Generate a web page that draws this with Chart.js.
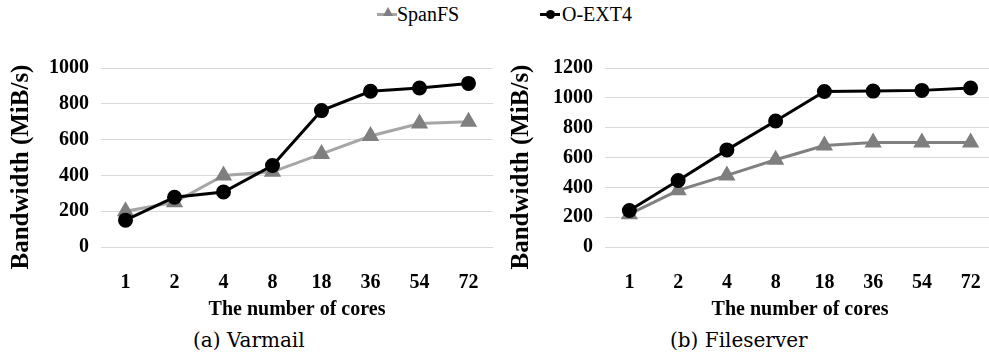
<!DOCTYPE html>
<html>
<head>
<meta charset="utf-8">
<script src="https://cdn.jsdelivr.net/npm/chart.js@4"></script>
<style>
  body { margin: 0; width: 989px; height: 360px; overflow: hidden; background: #fff; position: relative; }
  .box { position: absolute; }
  .legend { position: absolute; top: 3px; font: 20px "Liberation Serif", serif; color: #000; line-height: 22px; }
  .legend .mk { position: absolute; top: 10px; height: 3px; width: 20px; }
  .caption { position: absolute; top: 328px; font: 20px "DejaVu Serif", serif; color: #000; }
  .ytitle { position: absolute; top: 167px; width: 240px; margin-left: -120px; margin-top: -15px; height: 30px; line-height: 30px;
            text-align: center; transform: rotate(-90deg); font: bold 25px "Liberation Serif", serif; color: #000; white-space: nowrap; }
</style>
</head>
<body>
<div class="legend" style="left:377px;">
  <span class="mk" style="left:0;background:#a6a6a6;"></span>
  <span style="position:absolute;left:6px;top:4px;width:0;height:0;border-left:5px solid transparent;border-right:5px solid transparent;border-bottom:9px solid #7f7f7f;"></span>
  <span style="position:absolute;left:20px;top:0;white-space:nowrap;">SpanFS</span>
</div>
<div class="legend" style="left:540px;">
  <span class="mk" style="left:0;background:#000;"></span>
  <span style="position:absolute;left:6px;top:7px;width:9px;height:9px;border-radius:50%;background:#000;"></span>
  <span style="position:absolute;left:22px;top:0;white-space:nowrap;">O-EXT4</span>
</div>

<div class="box" style="left:0;top:44px;width:503px;height:278px;"><canvas id="varmail"></canvas></div>
<div class="box" style="left:500px;top:44px;width:505px;height:278px;"><canvas id="fileserver"></canvas></div>

<div class="ytitle" style="left:21px;">Bandwidth (MiB/s)</div>
<div class="ytitle" style="left:521px;">Bandwidth (MiB/s)</div>

<div class="caption" style="left:193px;">(a) Varmail</div>
<div class="caption" style="left:670px;">(b) Fileserver</div>

<script>
const cores = ['1', '2', '4', '8', '18', '36', '54', '72'];
const varmailSpanFS = [200, 250, 400, 420, 520, 620, 690, 700];
const varmailExt4 = [150, 278, 307, 455, 762, 870, 888, 914];
const fileserverSpanFS = [220, 380, 480, 585, 680, 700, 700, 700];
const fileserverExt4 = [245, 446, 651, 845, 1042, 1045, 1050, 1066];
const varmailMax = 1000;
const fileserverMax = 1200;
const tickStep = 200;

const serif = '"Liberation Serif", "Times New Roman", serif';
const boldFont = { family: serif, size: 20, weight: 'bold' };

function makeChart(id, spanfs, ext4, yMax, spanLine, axisWidth) {
  const ctx = document.getElementById(id);
  return new Chart(ctx, {
    type: 'line',
    data: {
      labels: cores,
      datasets: [{
        label: 'SpanFS',
        data: spanfs,
        borderColor: spanLine,
        backgroundColor: '#7f7f7f',
        pointBackgroundColor: '#7f7f7f',
        pointBorderColor: '#7f7f7f',
        pointStyle: 'triangle',
        pointRadius: 7,
        borderWidth: 3,
        order: 2
      }, {
        label: 'O-EXT4',
        data: ext4,
        borderColor: '#000',
        backgroundColor: '#000',
        pointBackgroundColor: '#000',
        pointBorderColor: '#000',
        pointStyle: 'circle',
        pointRadius: 6,
        borderWidth: 3,
        order: 1
      }]
    },
    options: {
      responsive: true,
      maintainAspectRatio: false,
      animation: false,
      layout: { padding: { top: 19, right: 3, bottom: 0, left: 0 } },
      plugins: { legend: { display: false }, tooltip: { enabled: false } },
      scales: {
        x: {
          offset: true,
          afterFit: function(scale) { scale.height = 75; },
          grid: { display: false },
          border: { display: false },
          ticks: { color: '#000', font: boldFont, padding: 16, maxRotation: 0, autoSkip: false },
          title: { display: true, text: 'The number of cores', color: '#000', font: boldFont, padding: { top: 0, bottom: 0 } }
        },
        y: {
          min: 0,
          max: yMax,
          afterFit: function(scale) { scale.width = axisWidth; },
          grid: { color: '#d9d9d9', lineWidth: 1, drawTicks: false },
          border: { display: false },
          ticks: { color: '#000', font: boldFont, padding: 12, stepSize: tickStep, autoSkip: false, callback: v => String(v) }
        }
      }
    }
  });
}

makeChart('varmail', varmailSpanFS, varmailExt4, varmailMax, '#a6a6a6', 101);
makeChart('fileserver', fileserverSpanFS, fileserverExt4, fileserverMax, '#808080', 105);
</script>
</body>
</html>
